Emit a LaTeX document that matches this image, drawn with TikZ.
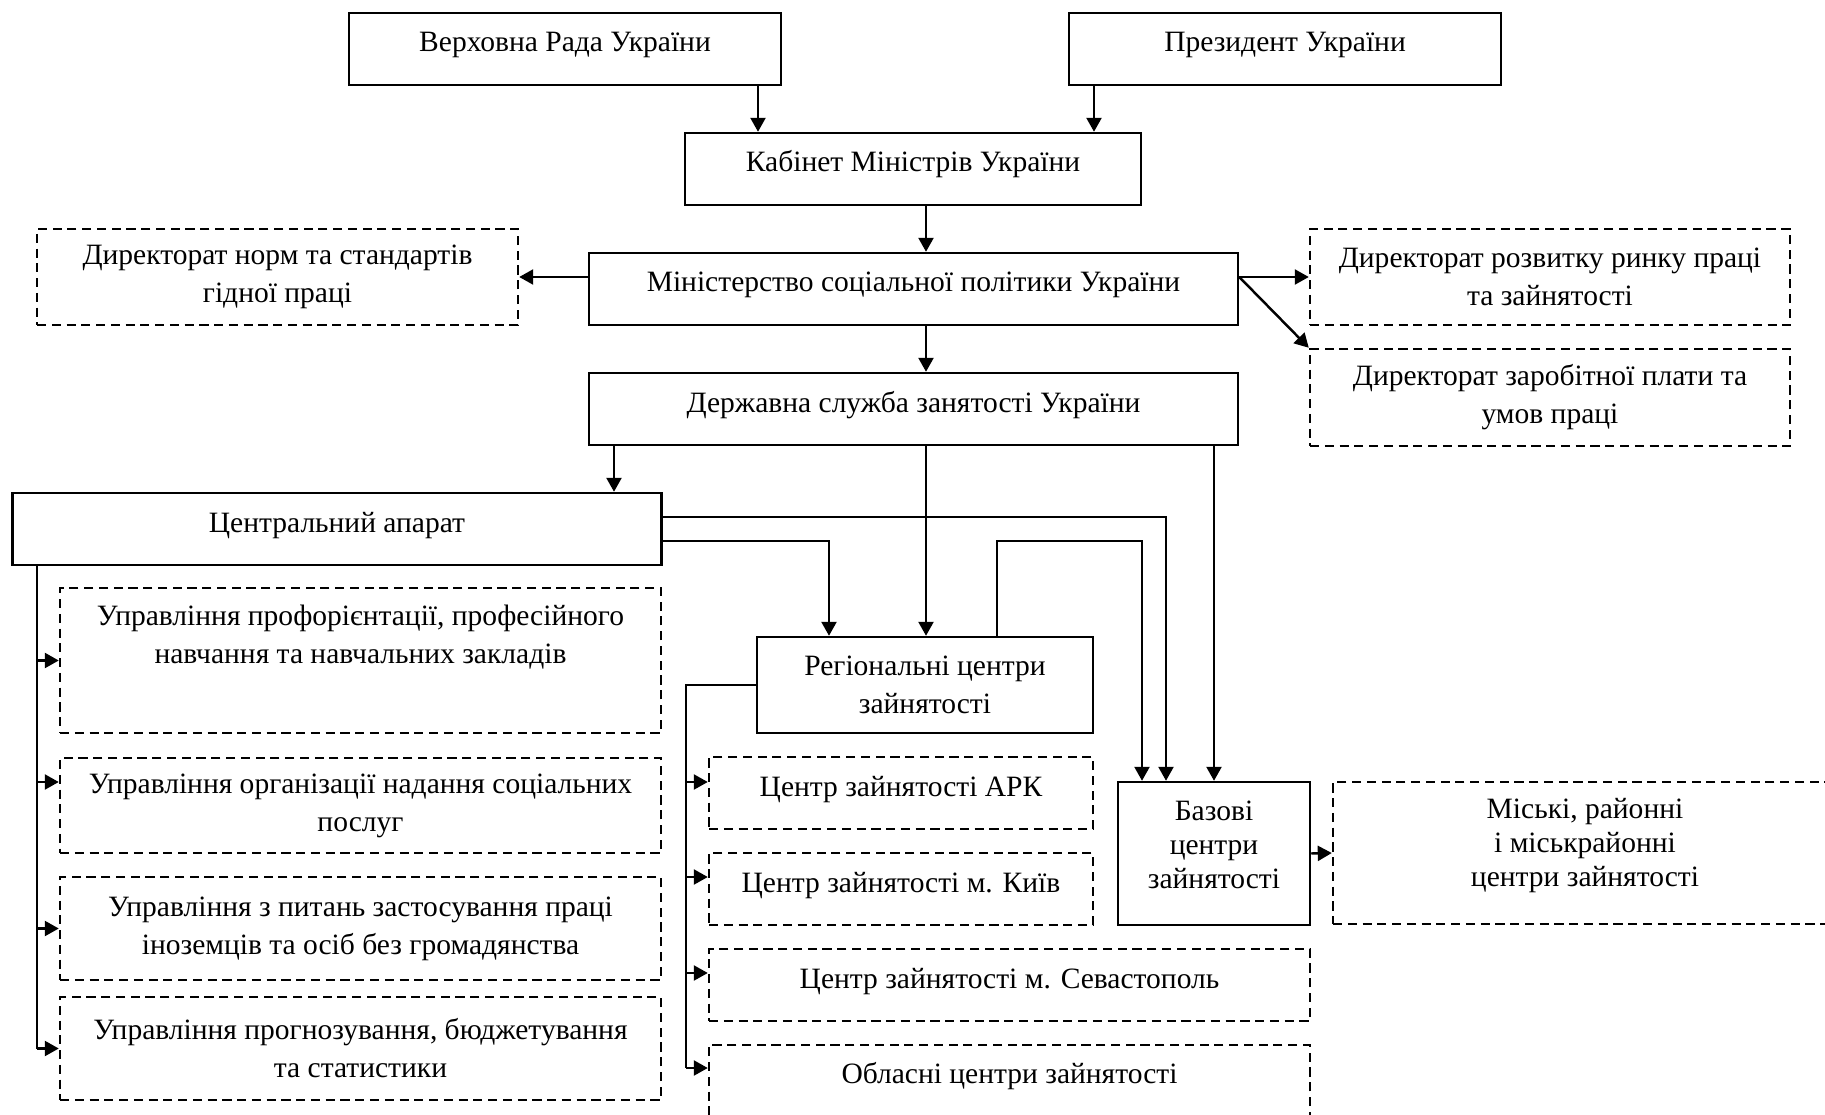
\documentclass[tikz,border=0pt]{standalone}
\usepackage{fontspec}
\setmainfont{Liberation Serif}
\usetikzlibrary{arrows.meta}

\begin{document}
\begin{tikzpicture}[x=1mm, y=-1mm,
    font=\fontsize{8.4}{10.8}\selectfont,
    box/.style={draw, line width=0.7pt, align=center, inner sep=0pt},
    dbox/.style={box, dash pattern=on 2.6pt off 1.6pt},
    one/.style={text height=2.4mm, text depth=1.8mm},
    tight/.style={font=\fontsize{8.4}{9.7}\selectfont},
    arr/.style={line width=0.7pt, -{Triangle[length=1.4mm, width=1.5mm]}},
    line/.style={line width=0.7pt}]
    \useasboundingbox (0,0) rectangle (182.5,111.5);
    \clip (0,0) rectangle (182.5,111.5);

    \node (rada) at (56.5,4.9) [box, one, minimum width=43.2mm, minimum height=7.2mm] {Верховна Рада України};
    \node (prez) at (128.5,4.9) [box, one, minimum width=43.2mm, minimum height=7.2mm] {Президент України};
    \node (kab) at (91.3,16.9) [box, one, minimum width=45.6mm, minimum height=7.2mm] {Кабінет Міністрів України};
    \node (dnorm) at (27.75,27.7) [dbox, minimum width=48.1mm, minimum height=9.6mm] {Директорат норм та стандартів\\гідної праці};
    \node (min) at (91.35,28.9) [box, one, minimum width=64.9mm, minimum height=7.2mm] {Міністерство соціальної політики України};
    \node (drozv) at (155,27.7) [dbox, minimum width=48mm, minimum height=9.6mm] {Директорат розвитку ринку праці\\та зайнятості};
    \node (dzar) at (155,39.75) [dbox, minimum width=48mm, minimum height=9.7mm] {Директорат заробітної плати та\\умов праці};
    \node (dsz) at (91.35,40.9) [box, one, minimum width=64.9mm, minimum height=7.2mm] {Державна служба занятості України};
    \node (ca) at (33.7,52.9) [box, one, minimum width=64.9mm, minimum height=7.2mm] {Центральний апарат};

    \node (u1) at (36.05,66.05) [dbox, minimum width=60.1mm, minimum height=14.5mm] {Управління профорієнтації, професійного\\навчання та навчальних закладів\\[4pt]\mbox{}};
    \node (u2) at (36.05,80.55) [dbox, minimum width=60.1mm, minimum height=9.5mm] {Управління організації надання соціальних\\послуг};
    \node (u3) at (36.05,92.85) [dbox, minimum width=60.1mm, minimum height=10.3mm] {Управління з питань застосування праці\\іноземців та осіб без громадянства};
    \node (u4) at (36.05,104.85) [dbox, minimum width=60.1mm, minimum height=10.3mm] {Управління прогнозування, бюджетування\\та статистики};

    \node (reg) at (92.5,68.5) [box, minimum width=33.6mm, minimum height=9.6mm] {Регіональні центри\\зайнятості};
    \node (arc) at (90.1,79.3) [dbox, one, minimum width=38.4mm, minimum height=7.2mm] {Центр зайнятості АРК};
    \node (kyiv) at (90.1,88.9) [dbox, one, minimum width=38.4mm, minimum height=7.2mm] {Центр зайнятості м. Київ};
    \node (sev) at (100.95,98.5) [dbox, one, minimum width=60.1mm, minimum height=7.2mm] {Центр зайнятості м. Севастополь};
    \node (obl) at (100.95,108.5) [dbox, one, text depth=2.75mm, minimum width=60.1mm, minimum height=8mm] {Обласні центри зайнятості};
    \node (baz) at (121.4,85.35) [box, tight, text depth=1.8mm, minimum width=19.2mm, minimum height=14.3mm] {Базові\\центри\\зайнятості};
    \node (misk) at (158.5,85.3) [dbox, tight, text depth=2.05mm, minimum width=50.4mm, minimum height=14.2mm] {Міські, районні\\і міськрайонні\\центри зайнятості};

    \draw[arr] (75.8,0 |- rada.south) -- (75.8,0 |- kab.north);
    \draw[arr] (109.4,0 |- prez.south) -- (109.4,0 |- kab.north);
    \draw[arr] (92.6,0 |- kab.south) -- (92.6,0 |- min.north);
    \draw[arr] (min.west |- dnorm.east) -- (dnorm.east);
    \draw[arr] (min.east |- drozv.west) -- (drozv.west);
    \draw[arr] (min.east |- drozv.west) -- (dzar.north west);
    \draw[arr] (92.6,0 |- min.south) -- (92.6,0 |- dsz.north);
    \draw[arr] (61.4,0 |- dsz.south) -- (61.4,0 |- ca.north);
    \draw[arr] (92.6,0 |- dsz.south) -- (92.6,0 |- reg.north);
    \draw[arr] (dsz.south -| baz.north) -- (baz.north);
    \draw[arr] (ca.east |- 0,51.7) -| (116.6,0 |- baz.north);
    \draw[arr] (ca.east |- 0,54.1) -| (82.9,0 |- reg.north);
    \draw[arr] (99.7,0 |- reg.north) |- (114.2,54.1) -- (114.2,0 |- baz.north);

    \draw[line] (3.7,0 |- ca.south) -- (3.7,0 |- u4.west);
    \draw[arr] (3.7,0 |- u1.west) -- (u1.west);
    \draw[arr] (3.7,78.2) -- (u2.west |- 0,78.2);
    \draw[arr] (3.7,0 |- u3.west) -- (u3.west);
    \draw[arr] (3.7,0 |- u4.west) -- (u4.west);

    \draw[line] (reg.west) -- (68.6,0 |- reg.west) -- (68.6,106.8);
    \draw[arr] (68.6,78.2) -- (arc.west |- 0,78.2);
    \draw[arr] (68.6,87.7) -- (kyiv.west |- 0,87.7);
    \draw[arr] (68.6,97.3) -- (sev.west |- 0,97.3);
    \draw[arr] (68.6,106.8) -- (obl.west |- 0,106.8);
    \draw[arr] (baz.east) -- (misk.west);
\end{tikzpicture}
\end{document}
